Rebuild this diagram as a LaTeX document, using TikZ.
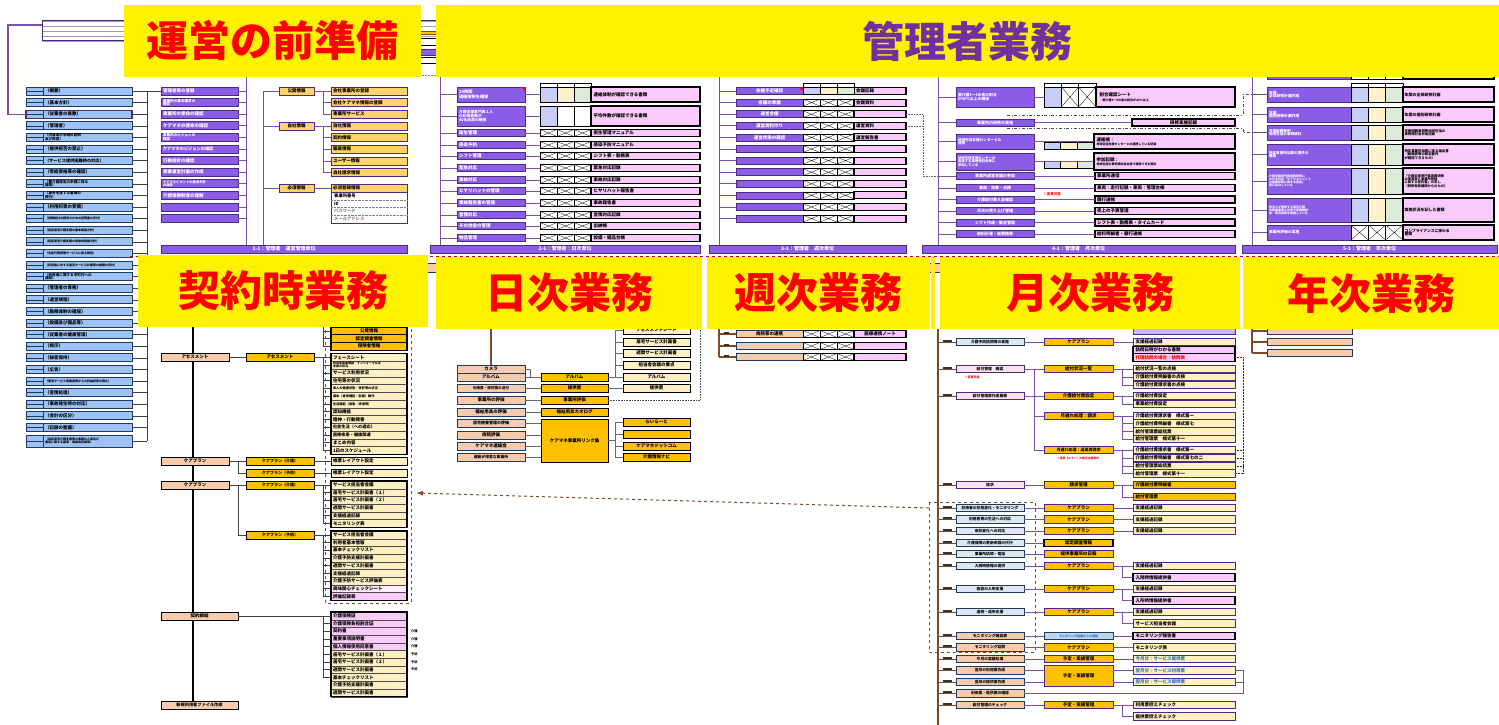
\documentclass[tikz,border=0pt]{standalone}
\usepackage{fontspec}
\setmainfont{Noto Sans CJK JP}
\usetikzlibrary{arrows.meta}
\definecolor{cBlue}{HTML}{9DC3F5}
\definecolor{cNavy}{HTML}{1F3A5F}
\definecolor{cPur}{HTML}{8B5CE6}
\definecolor{cPurD}{HTML}{4B2A80}
\definecolor{cPurL}{HTML}{7B4FB0}
\definecolor{cPink}{HTML}{FACBFA}
\definecolor{cOrg}{HTML}{FFC000}
\definecolor{cLO}{HTML}{FFD36B}
\definecolor{cCrm}{HTML}{FFF0C4}
\definecolor{cSal}{HTML}{F8CBAD}
\definecolor{cLB}{HTML}{C7CDF5}
\definecolor{cLY}{HTML}{FFF0CC}
\definecolor{cLG}{HTML}{DCEBD8}
\definecolor{cBrown}{HTML}{7F4A2A}
\definecolor{cTxtP}{HTML}{7030A0}
\definecolor{cSky}{HTML}{BDD7EE}
\definecolor{cBtxt}{HTML}{2E75B6}
\definecolor{cGrayL}{HTML}{5F6B7A}
\definecolor{cLPk}{HTML}{FBE3EE}
\definecolor{cLBg}{HTML}{DDE6F2}
\newcommand\fs[1]{\fontsize{#1}{#1}\selectfont}
\newcommand\bx[7]{\node[#6,anchor=north west,minimum width={(#4)-(#2)},minimum height={(#5)-(#3)}] (#1) at ({#2},{#3}) {#7};}
\newcommand\tri[8]{\bx{#1a}{#2}{#3}{(#2)+(#5)}{#4}{#6}{}\bx{#1b}{(#2)+(#5)}{#3}{(#2)+2*(#5)}{#4}{#7}{}\bx{#1c}{(#2)+2*(#5)}{#3}{(#2)+3*(#5)}{#4}{#8}{}}
\newcommand\ml[4][mlb]{\bx{#2}{956}{#3-3.8}{1024}{#3+3.8}{#1,font=\fs{3.8}\bfseries}{#4}\draw[brl,line width=1pt] (#2.west -| T11) -- (#2.west);\fill[black!80] ([xshift=-13pt,yshift=0.2pt]#2.west) rectangle ([xshift=-4pt,yshift=2.2pt]#2.west);}
\newcommand\mm[4][orgp]{\bx{#2}{1044}{#3-3.8}{1113}{#3+3.8}{#1}{#4}}
\newcommand\mr[4][crmp]{\bx{#2}{1133}{#3-3.8}{1235}{#3+3.8}{#1,text width=97pt,align=left}{#4}}
\newcommand\cn[2]{\draw[pl] (#1.east) -- (#2.west);}
\newcommand\cnv[3]{\draw[pl] (#1.east -| #3) |- (#2.west);}
\tikzset{
 bb/.style={draw,inner sep=0pt,outer sep=0pt,align=center,font=\fs{4.5}\bfseries},
 blu/.style={bb,fill=cBlue,draw=cNavy,line width=0.7pt},
 lcell/.style={blu,path picture={\draw[cNavy,line width=0.3pt] (path picture bounding box.west)--(path picture bounding box.east);}},
 pur/.style={bb,fill=cPur,draw=cPurD,line width=0.8pt,text=white},
 pnk/.style={bb,fill=cPink,draw=black,line width=1.1pt},
 pnkk/.style={bb,fill=cPink,draw=black,line width=1.2pt},
 lor/.style={bb,fill=cLO,draw=cPurD,line width=0.8pt},
 org/.style={bb,fill=cOrg,draw=black,line width=0.9pt},
 orgp/.style={bb,fill=cOrg,draw=cPurD,line width=0.9pt},
 crm/.style={bb,fill=cCrm,draw=black!70,line width=0.4pt,text width=72pt,align=left},
 crmp/.style={bb,fill=cCrm,draw=cPurD,line width=0.9pt},
 crmk/.style={bb,fill=cCrm,draw=black,line width=1pt},
 sal/.style={bb,fill=cSal,draw=cNavy,line width=0.9pt},
 salk/.style={bb,fill=cSal,draw=black,line width=1pt},
 mlb/.style={bb,fill=cLBg,draw=cNavy,line width=1pt},
 mlp/.style={bb,fill=cLPk,draw=cPurD,line width=1pt},
 mls/.style={bb,fill=cSal,draw=cNavy,line width=1pt},
 xcell/.style={bb,fill=white,draw=black,line width=0.7pt,path picture={\draw[line width=0.3pt] (path picture bounding box.north west)--(path picture bounding box.south east) (path picture bounding box.south west)--(path picture bounding box.north east);}},
 cellB/.style={bb,fill=cLB,draw=black,line width=0.7pt},
 cellY/.style={bb,fill=cLY,draw=black,line width=0.7pt},
 cellG/.style={bb,fill=cLG,draw=black,line width=0.7pt},
 cellW/.style={bb,fill=white,draw=black,line width=0.7pt},
 hcell/.style={bb,fill=white,draw=black,line width=0.6pt},
 bar/.style={bb,fill=cPur,draw=cPurD,line width=0.8pt,text=white,font=\fs{5}\bfseries},
 pl/.style={draw=cPurL,line width=0.9pt},
 kl/.style={draw=black!75,line width=0.6pt},
 bl/.style={draw=cGrayL,line width=0.7pt},
 brl/.style={draw=cBrown,line width=1.4pt},
 ylab/.style={fill=yellow,inner sep=0pt,outer sep=0pt,anchor=north west,font=\fs{42}\bfseries,text=red},
}
\begin{document}
\begin{tikzpicture}[x=1pt,y=-1pt]
\useasboundingbox (0,0) rectangle (1499,725);
\fill[white] (0,0) rectangle (1499,725);

% ================= 1: preparation ==================
\foreach \k in {0,1,2,3}{\bx{TB\k}{42}{21+5*\k}{436}{26+5*\k}{bb,fill=white,draw=cPurD!50,line width=0.4pt}{}}
\draw[cPurD,line width=1pt] (TB0.north west) rectangle (TB3.south east);
\bx{LG1}{405}{31}{436}{34}{bb,fill=cOrg,draw=cBrown,line width=0.4pt}{}
\bx{LG2}{405}{38}{436}{45}{bb,fill=white,draw=black,line width=0.6pt}{}
\bx{LG3}{405}{49}{436}{55}{pur}{}
\bx{LG4}{405}{57}{436}{63}{bb,fill=white,draw=black,line width=0.6pt}{}
\draw[densely dotted,gray,line width=0.5pt] (LG4.south west |- 0,75) -- (LG4.south east |- 0,75);

\coordinate (T1) at (147,91);
\coordinate (T1b) at (147,441);
\draw[kl] (T1) -- (T1b);
\foreach \i/\f/\t in {0/4.5/（概要）,1/4.5/（基本方針）,2/4.5/（従業者の員数）,3/4.5/（管理者）,4/3.6/（内容及び手続の説明\\及び同意）,5/4.5/（提供拒否の禁止）,6/4.2/（サービス提供困難時の対応）,7/4.5/（受給資格等の確認）,8/3.6/（要介護認定の申請に係る\\援助）,9/3.6/（身分を証する書類の\\携行）,10/4.5/（利用料等の受領）,11/3/（保険給付の請求のための証明書の交付）,12/3/（指定居宅介護支援の基本取扱方針）,13/3/（指定居宅介護支援の具体的取扱方針）,14/3/（法定代理受領サービスに係る報告）,15/3/（利用者に対する居宅サービス計画等の書類の交付）,16/3.6/（利用者に関する市町村への\\通知）,17/4.5/（管理者の責務）,18/4.5/（運営規程）,19/4.5/（勤務体制の確保）,20/4.5/（設備及び備品等）,21/4.5/（従業者の健康管理）,22/4.5/（掲示）,23/4.5/（秘密保持）,24/4.5/（広告）,25/3/（居宅サービス事業者等からの利益収受の禁止）,26/4.5/（苦情処理）,27/4.5/（事故発生時の対応）,28/4.5/（会計の区分）,29/4.5/（記録の整備）}{
  \pgfmathsetmacro\yc{91+11.6*\i}
  \bx{Ls\i}{26}{\yc-4}{43}{\yc+4}{lcell}{}
  \bx{L\i}{43}{\yc-4}{132}{\yc+4}{blu,font=\fs{\f}\bfseries,text width=85pt,align=left}{\t}
  \draw[kl] (L\i.east) -- (L\i.east -| T1);
}
\bx{Ls30}{26}{435}{43}{447}{lcell}{}
\bx{L30}{43}{435}{132}{447}{blu,font=\fs{3}\bfseries,text width=85pt,align=left}{（指定居宅介護支援等の事業の人員及び\\運営に関する基準：電磁的記録等）}
\draw[kl] (L30.east) -- (L30.east -| T1);
\draw[cPurD,line width=1.3pt] (Ls2.north west) rectangle (L2.south east);
\coordinate (TBl) at (42,25);
\draw[pl,line width=1.2pt] (TBl) -- (8,25) |- (Ls2.west);

\coordinate (T2) at (246,77);
\coordinate (T2b) at (246,245);
\draw[pl] (T2) -- (T2b);
\foreach \i/\f/\t in {0/4.5/管理者等の登録,1/3.6/事業所の基本理念の\\確認,2/4.5/事業所の使命の確認,3/4.5/ケアマネの使命の確認,4/3.6/事業所のビジョンの\\確認,5/4.2/ケアマネのビジョンの確認,6/4.5/行動指針の確認,7/4.5/事業運営計画の作成,8/3.3/ケアマネジメントの基本方針\\の確認,9/4.5/介護保険制度の理解,10/4.5/,11/4.5/}{
  \pgfmathsetmacro\yc{91+11.6*\i}
  \bx{P\i}{161}{\yc-4}{238}{\yc+4}{pur,font=\fs{\f}\bfseries,text width=73pt,align=left}{\t}
  \draw[pl] (P\i.east) -- (P\i.east -| T2);
}
\draw[kl] (T1) -- (P0.west);

\coordinate (T3) at (263,91);
\coordinate (T3b) at (263,245);
\draw[pl] (T3) -- (T3b);
\bx{G1}{279}{87}{314}{95}{lor}{公開情報}
\bx{G2}{279}{122}{314}{130}{lor}{自社情報}
\bx{G3}{279}{184}{314}{192}{lor}{必須情報}
\foreach \k in {1,2,3}{\draw[pl] (G\k.west -| T3) -- (G\k.west);}
\foreach \i/\yy/\t in {0/91/会社事業所の登録,1/102.5/会社ケアマネ情報の登録,2/114/事業所サービス,3/126/自社情報,4/137.5/契約情報,5/149/職員情報,6/161/ユーザー情報,7/172.5/自社請求情報}{
  \bx{R\i}{331}{\yy-4}{407}{\yy+4}{lor,text width=72pt,align=left}{\t}
}
\coordinate (V1) at (323,0);
\draw[pl] (G1.east) -- (R0.west);
\draw[pl] (R0.west -| V1) -- (R2.west -| V1);
\foreach \i in {1,2}{\draw[pl] (R\i.west -| V1) -- (R\i.west);}
\draw[pl] (G2.east) -- (R3.west);
\draw[pl] (R3.west -| V1) -- (R7.west -| V1);
\foreach \i in {4,...,7}{\draw[pl] (R\i.west -| V1) -- (R\i.west);}
\bx{R8}{331}{184}{407}{192}{lor,text width=72pt,align=left}{必須登録情報}
\draw[pl] (G3.east) -- (R8.west);
\bx{RL}{331}{192}{407}{223}{bb,fill=white,draw=cPurD,line width=0.8pt}{}
\foreach \k/\t/\c in {0/事業所番号/black,1/ID/black,2/パスワード/gray,3/メールアドレス/gray}{
  \node[font=\fs{4.3}\bfseries,text=\c,anchor=west,inner sep=0pt] (RL\k) at (334,{195.8+7.7*\k}) {\t};
}
\foreach \k in {1,2,3}{\draw[densely dotted,gray,line width=0.4pt] (331,{192+7.7*\k}) -- (407,{192+7.7*\k});}
\bx{B1}{161}{245}{407}{253}{bar}{1-1：管理者　運営管理単位}

% ================= 2: daily (top) ==================
\coordinate (T4) at (440,77);
\coordinate (T4b) at (440,245);
\draw[pl] (T4) -- (T4b);
\tri{DH}{540}{83}{87}{17}{hcell}{hcell}{hcell}
\bx{D0}{457}{87}{525}{102}{pur,font=\fs{4.2}\bfseries,text width=64pt,align=left}{24時間\\連絡体制を確保}
\tri{DC0}{540}{87}{102}{17}{cellB}{cellY}{cellG}
\bx{DR0}{591}{87}{700}{102}{pnk,text width=104pt,align=left}{連絡体制が確認できる書類}
\bx{D1}{457}{106}{525}{126}{pur,font=\fs{3.8}\bfseries,text width=64pt,align=left}{介護支援専門員１人\\の利用者数が\\40名未満の確保}
\tri{DC1}{540}{106}{126}{17}{cellB}{cellW}{cellW}
\bx{DR1}{591}{106}{700}{126}{pnk,text width=104pt,align=left}{平均件数が確認できる書類}
\fill[red] ([xshift=-4pt]D0.north east) -- (D0.north east) -- ([yshift=-4pt]D0.north east) -- cycle;
\foreach \i in {0,1}{\draw[pl] (D\i.west -| T4) -- (D\i.west); \draw[pl] (D\i.east) -- (DC\i a.west);}
\foreach \i/\yy/\a/\b in {2/133/衛生管理/衛生管理マニュアル,3/145/感染予防/感染予防マニュアル,4/156/シフト管理/シフト表・勤務表,5/168/緊急対応/緊急対応記録,6/180/事故対応/事故対応記録,7/191/ヒヤリハットの管理/ヒヤリハット報告書,8/203/事故報告書の管理/事故報告書,9/215/苦情対応/苦情対応記録,10/226/その他金の管理/出納帳,11/238/物品管理/設備・備品台帳}{
  \bx{D\i}{457}{\yy-3.5}{525}{\yy+3.5}{pur,text width=64pt,align=left}{\a}
  \tri{DC\i}{540}{\yy-3.5}{\yy+3.5}{17}{xcell}{xcell}{xcell}
  \bx{DR\i}{591}{\yy-3.5}{700}{\yy+3.5}{pnk,text width=104pt,align=left}{\b}
  \draw[pl] (D\i.west -| T4) -- (D\i.west);
  \draw[pl] (D\i.east) -- (DC\i a.west);
}
\bx{B2}{430}{245}{700}{253}{bar}{2-1：管理者：日次単位}

% ================= 3: weekly (top) ==================
\coordinate (T5) at (719,77);
\coordinate (T5b) at (719,245);
\draw[pl] (T5) -- (T5b);
\tri{WH}{803}{83}{87.5}{17}{hcell}{hcell}{hcell}
\foreach \i/\a/\b in {0/会議予定確認/会議記録,1/会議の準備/会議資料,2/運営会議/,3/運営資料作り/運営資料,4/運営状態の確認/運営報告書,5//,6//,7//,8//,9//,10//,11//}{
  \pgfmathsetmacro\yy{91+11.6*\i}
  \bx{W\i}{736}{\yy-3.5}{803}{\yy+3.5}{pur}{\a}
  \tri{WC\i}{803}{\yy-3.5}{\yy+3.5}{17}{xcell}{xcell}{xcell}
  \bx{WR\i}{854}{\yy-3.5}{906}{\yy+3.5}{pnk,text width=48pt,align=left}{\b}
  \draw[pl] (W\i.west -| T5) -- (W\i.west);
}
\tri{WCc}{803}{87.5}{94.5}{17}{cellB}{cellY}{cellG}
\fill[red] ([xshift=-4pt]W0.north east) -- (W0.north east) -- ([yshift=-4pt]W0.north east) -- cycle;
\bx{B3}{709}{245}{906}{253}{bar}{3-1：管理者　週次単位}

% ================= 4: monthly (top) ==================
\coordinate (T6) at (938,77);
\coordinate (T6b) at (938,245);
\draw[pl] (T6) -- (T6b);
\tri{MH}{1044}{83}{87}{17.3}{hcell}{hcell}{hcell}
\bx{M0}{956}{87}{1034}{107}{pur,font=\fs{3.8}\bfseries,text width=74pt,align=left}{要介護3～5の者の割合\\が40\%以上の確保}
\tri{MC0}{1044}{87}{107}{17.3}{cellB}{xcell}{xcell}
\bx{MR0}{1096}{87}{1235}{107}{pnk,text width=132pt,align=left}{割合確認シート\\{\fs{3}\bfseries{}・要介護3～5の者の割合が40\%以上}}
\bx{M1}{956}{119}{1034}{126}{pur,font=\fs{4}\bfseries}{事業所内研修の実施}
\bx{MR1}{1132}{119}{1235}{126}{pnk}{研修実施記録}
\bx{M2}{956}{134}{1034}{149}{pur,font=\fs{3.6}\bfseries,text width=74pt,align=left}{地域包括支援センターとの\\連携}
\tri{MC2}{1044}{142}{149}{16.7}{cellB}{cellY}{cellG}
\bx{MR2}{1094}{134}{1235}{149}{pnk,text width=136pt,align=left}{連絡帳：\\{\fs{3}\bfseries{}地域包括支援センターとの連携している記録}}
\bx{M3}{956}{153}{1034}{170}{pur,font=\fs{3.4}\bfseries,text width=74pt,align=left}{地域包括支援センターが\\実施する事例検討会等に\\参加している}
\tri{MC3}{1044}{161}{168}{16.7}{cellB}{cellY}{cellG}
\bx{MR3}{1094}{153}{1235}{170}{pnk,text width=136pt,align=left}{参加記録：\\{\fs{3}\bfseries{}地域包括の事例検討会出席で確認できる資料}}
\foreach \i/\yy/\a/\b in {4/176/事業所運営会議の参加/事業所通信,5/188/車両：洗車・点検/車両：走行記録・車両：管理台帳,6/199.5/介護給付費入金確認/銀行通帳,7/211/月次の売り上げ管理/売上の予算管理,8/222.5/シフト作成・勤怠管理/シフト表・勤務表・タイムカード,9/234/給料計算・経費精算/給料明細書・銀行通帳}{
  \bx{M\i}{956}{\yy-3.5}{1034}{\yy+3.5}{pur,font=\fs{4}\bfseries}{\a}
  \bx{MR\i}{1095}{\yy-3.5}{1235}{\yy+3.5}{pnk,text width=136pt,align=left}{\b}
  \draw[pl] (M\i.east) -- (MR\i.west);
}
\foreach \i in {0,...,9}{\draw[pl] (M\i.west -| T6) -- (M\i.west);}
\draw[pl] (M0.east) -- (MC0a.west);
\draw[pl] (M1.east) -- (MR1.west);
\draw[pl] (M2.east) -- (M2.east -| MR2.west);
\draw[pl] (M3.east) -- (M3.east -| MR3.west);
\node[text=red,font=\fs{3.5}\bfseries,inner sep=0pt] (NOTE1) at (1052,194) {※変更可能};
\bx{B4}{922}{245}{1235}{253}{bar}{4-1：管理者　月次単位}

% ================= 5: yearly (top) ==================
\coordinate (T7) at (1252,70);
\coordinate (T7b) at (1252,245);
\draw[pl] (T7) -- (T7b);
\bx{YRh}{1267}{70}{1351}{79}{pur}{}
\tri{YCh}{1351}{70}{79}{17.3}{cellW}{cellW}{cellW}
\bx{YRRh}{1403}{70}{1494}{79}{pnk}{}
\tri{YH}{1351}{83}{87}{17.3}{hcell}{hcell}{hcell}
\bx{YR0}{1267}{87}{1351}{102}{pur,font=\fs{3.8}\bfseries,text width=80pt,align=left}{年間\\全体研修計画作成}
\bx{YR1}{1267}{107}{1351}{122}{pur,font=\fs{3.8}\bfseries,text width=80pt,align=left}{年間\\個別研修計画作成}
\bx{YR2}{1267}{125}{1351}{140}{pur,font=\fs{3.6}\bfseries,text width=80pt,align=left}{支援困難事例：\\地域包括の事例検討}
\bx{YR3}{1267}{144}{1351}{165}{pur,font=\fs{3.6}\bfseries,text width=80pt,align=left}{特定事業所加算の要件の\\確認}
\bx{YR4}{1267}{168}{1351}{194}{pur,font=\fs{3}\bfseries,text width=80pt,align=left}{介護支援専門員実務研修に\\おける科目「ケアマネジメント\\の基礎技術に関する実習」\\等に協力している}
\bx{YR5}{1267}{198}{1351}{222}{pur,font=\fs{3}\bfseries,text width=80pt,align=left}{他法人が運営する居宅介護\\支援事業者と共同で事例検討\\会・研究会等を実施している}
\bx{YR6}{1267}{225}{1351}{240}{pur,font=\fs{3.8}\bfseries,text width=80pt,align=left}{事業所評価の実施}
\foreach \i/\a/\b in {0/87/102,1/107/122,2/125/140,3/144/165,4/168/194,5/198/222}{\tri{YC\i}{1351}{\a}{\b}{17.3}{cellB}{cellY}{cellG}}
\tri{YC6}{1351}{225}{240}{17.3}{xcell}{xcell}{xcell}
\bx{YP0}{1403}{87}{1494}{102}{pnk,font=\fs{4}\bfseries,text width=88pt,align=left}{年間の全体研修計画}
\bx{YP1}{1403}{107}{1494}{122}{pnk,font=\fs{4}\bfseries,text width=88pt,align=left}{年間の個別研修計画}
\bx{YP2}{1403}{125}{1494}{140}{pnk,font=\fs{3.4}\bfseries,text width=88pt,align=left}{支援困難事例等地域包括の\\事例検討会参加記録}
\bx{YP3}{1403}{144}{1494}{165}{pnk,font=\fs{3.4}\bfseries,text width=88pt,align=left}{特定事業所加算に係る届出書\\（勤務表等の算定要件\\が確認できるもの）}
\bx{YP4}{1403}{168}{1494}{194}{pnk,font=\fs{3.3}\bfseries,text width=88pt,align=left}{「介護支援専門員実務研修\\の実習受入事業所登録\\に関する誓約書」の写し\\（研修実施機関からのもの）}
\bx{YP5}{1403}{198}{1494}{222}{pnk,font=\fs{4}\bfseries,text width=88pt,align=left}{実施状況を記した書類}
\bx{YP6}{1403}{225}{1494}{240}{pnk,font=\fs{3.8}\bfseries,text width=88pt,align=left}{コンプライアンスに係わる\\書類}
\foreach \i in {0,...,6}{\draw[pl] (YR\i.west -| T7) -- (YR\i.west);}
\bx{B5}{1242}{245}{1497}{253}{bar}{5-1：管理者　年次単位}
\coordinate (DD1) at (1007,115);
\coordinate (DD2) at (1007,128);
\coordinate (V11) at (1243,0);
\draw[dash dot,line width=0.8pt,black!70] (DD1) -- (DD1 -| V11) |- (YR0.west);
\draw[dash dot,line width=0.8pt,black!70] (DD2) -- (DD2 -| V11) |- (YR2.west);
\draw[densely dotted,line width=0.6pt,black!60] (WR2.east) -- (WR2.east -| 923,0) |- (M4.west);
\draw[densely dotted,line width=0.6pt,black!60] (WR3.east) -- (WR3.east -| 923,0);

\draw[red!80!black,dashed,line width=1.2pt] (130,256.5) -- (1499,256.5);

% ================= lower: contract ==================
\bx{SP1}{418}{263}{446}{272}{sal}{}
\bx{SP2}{924}{263}{952}{272}{sal}{}
\coordinate (T8) at (193,320);
\coordinate (T8b) at (193,705);
\draw[black,line width=1.6pt] (T8) -- (T8b);
\bx{K1}{161}{353}{229}{361}{salk}{アセスメント}
\bx{K2}{161}{457}{229}{465}{salk}{ケアプラン}
\bx{K3}{161}{481}{229}{489}{salk}{ケアプラン}
\bx{K4}{161}{612}{238}{620}{salk}{契約締結}
\bx{K5}{161}{701}{238}{709}{salk,font=\fs{4.2}\bfseries}{新規利用者ファイル作成}
\bx{A1}{246}{353}{314}{361}{org}{アセスメント}
\bx{A2}{246}{457}{314}{465}{org,font=\fs{4}\bfseries}{ケアプラン（介護）}
\bx{A3}{246}{469}{314}{477}{org,font=\fs{4}\bfseries}{ケアプラン（予防）}
\bx{A4}{246}{481}{314}{489}{org,font=\fs{4}\bfseries}{ケアプラン（介護）}
\bx{A5}{246}{531}{314}{539}{org,font=\fs{4}\bfseries}{ケアプラン（予防）}
\coordinate (V2) at (238,0);
\draw[kl] (K1.east) -- (A1.west);
\draw[kl] (K2.east) -- (A2.west);
\draw[kl] (K2.east -| V2) |- (A3.west);
\draw[kl] (K3.east) -- (A4.west);
\draw[kl] (K3.east -| V2) |- (A5.west);
\coordinate (V3) at (323,0);
\foreach \i/\t in {0/公費情報,1/認定調査情報,2/保険者情報}{
  \pgfmathsetmacro\yy{327+7.7*\i}
  \bx{TQ\i}{331}{\yy}{407}{\yy+7.7}{org,line width=0.5pt}{\t}
  \draw[kl] (TQ\i.west -| V3) -- (TQ\i.west);
}
\draw[line width=1.1pt] (TQ0.north west) rectangle (TQ2.south east);
\draw[kl] (V3 |- 0,320) -- (TQ2.west -| V3);
\foreach \i/\f/\t in {0/4.5/フェースシート,1/3/利用者基本情報・インフォーマルな\\支援の状況,2/4.5/サービス利用状況,3/4.5/住宅等の状況,4/3.2/本人の健康状態・受診等の状況,5/3.2/基本（身体機能・起居）動作,6/3.2/生活機能（食事・排泄等）,7/4.5/認知機能,8/4.5/精神・行動障害,9/4.2/社会生活（への適応）,10/4.2/医療疾患・健康関連,11/4.5/まとめ内容,12/4.5/1日のスケジュール}{
  \pgfmathsetmacro\yy{353.5+7.75*\i}
  \bx{AS\i}{331}{\yy}{407}{\yy+7.75}{crm,font=\fs{\f}\bfseries}{\t}
  \draw[kl] (AS\i.west -| V3) -- (AS\i.west);
}
\draw[line width=1.1pt] (AS0.north west) rectangle (AS12.south east);
\draw[kl] (A1.east) -- (A1.east -| V3);
\draw[kl] (AS0.west -| V3) -- (AS12.west -| V3);
\bx{C1}{331}{457}{407}{465}{crmk,text width=72pt,align=left}{帳票レイアウト設定}
\bx{C2}{331}{469}{407}{477}{crmk,text width=72pt,align=left}{帳票レイアウト設定}
\draw[kl] (A2.east) -- (C1.west);
\draw[kl] (A3.east) -- (C2.west);
\foreach \i/\t in {0/サービス担当者会議,1/居宅サービス計画書（１）,2/居宅サービス計画書（２）,3/週間サービス計画書,4/支援経過記録,5/モニタリング表}{
  \pgfmathsetmacro\yy{481+7.7*\i}
  \bx{CP\i}{331}{\yy}{407}{\yy+7.7}{crm}{\t}
  \draw[kl] (CP\i.west -| V3) -- (CP\i.west);
}
\draw[line width=1.1pt] (CP0.north west) rectangle (CP5.south east);
\draw[kl] (A4.east) -- (A4.east -| V3);
\draw[kl] (CP0.west -| V3) -- (CP5.west -| V3);
\foreach \i/\t in {0/サービス担当者会議,1/利用者基本情報,2/基本チェックリスト,3/介護予防支援計画書,4/週間サービス計画書,5/支援経過記録,6/介護予防サービス評価表}{
  \pgfmathsetmacro\yy{531+7.7*\i}
  \bx{PP\i}{331}{\yy}{407}{\yy+7.7}{crm}{\t}
  \draw[kl] (PP\i.west -| V3) -- (PP\i.west);
}
\bx{PP7}{331}{584.9}{407}{592.6}{crm,fill=cPink!35}{興味関心チェックシート}
\bx{PP8}{331}{592.6}{407}{600.3}{crm,fill=cPink}{評価記録表}
\foreach \i in {7,8}{\draw[kl] (PP\i.west -| V3) -- (PP\i.west);}
\draw[line width=1.1pt] (PP0.north west) rectangle (PP8.south east);
\draw[kl] (A5.east) -- (A5.east -| V3);
\draw[kl] (PP0.west -| V3) -- (PP8.west -| V3);
\foreach \i/\t in {0/介護保険証,1/介護保険負担割合証,2/契約書,3/重要事項説明書,4/個人情報使用同意書}{
  \pgfmathsetmacro\yy{612+7.7*\i}
  \bx{CT\i}{331}{\yy}{407}{\yy+7.7}{crm,fill=cPink}{\t}
}
\foreach \i/\t in {5/居宅サービス計画書（１）,6/居宅サービス計画書（２）,7/週間サービス計画書,8/基本チェックリスト,9/介護予防支援計画書,10/週間サービス計画書}{
  \pgfmathsetmacro\yy{612+7.7*\i}
  \bx{CT\i}{331}{\yy}{407}{\yy+7.7}{crm}{\t}
}
\draw[line width=1.1pt] (CT0.north west) rectangle (CT10.south east);
\draw[kl] (K4.east) -- (K4.east -| V3);
\draw[kl] (CT0.west -| V3) -- (CT8.west -| V3);
\foreach \i in {0,...,8}{\draw[kl] (CT\i.west -| V3) -- (CT\i.west);}
\foreach \i/\t in {2/介護,3/介護,4/介護,5/予防,6/予防,7/予防}{\node[font=\fs{3.2}\bfseries,anchor=west,inner sep=0pt] (SL\i) at ([xshift=4pt]CT\i.east) {\t};}
\draw[cBrown,dashed,line width=1pt] (325,318) rectangle (411,603);

% ================= lower: daily ==================
\coordinate (T9) at (491,329);
\bx{DL0}{457}{365}{525}{373}{sal}{カメラ}
\bx{DL1}{457}{373}{525}{381}{sal}{アルバム}
\draw[brl] (T9) -- (DL0.north);
\bx{DL2}{457}{384}{525}{392}{sal,font=\fs{3.6}\bfseries}{利用票・提供票の送付}
\bx{DL3}{457}{396}{525}{404}{sal}{事業所の評価}
\bx{DL4}{457}{408}{525}{416}{sal}{福祉用具の評価}
\bx{DL5}{457}{419}{525}{427}{sal,font=\fs{4}\bfseries}{居宅療養管理の評価}
\bx{DL6}{457}{431}{525}{439}{sal}{病院評価}
\bx{DL7}{457}{442}{525}{450}{sal}{ケアマネ連絡会}
\bx{DL8}{457}{453}{525}{461}{sal,font=\fs{3.8}\bfseries}{運動が得意な事業所}
\bx{EL0}{541}{373}{608}{381}{org}{アルバム}
\bx{EL1}{541}{384}{608}{392}{org}{提供票}
\bx{EL2}{541}{396}{608}{404}{org}{事業所評価}
\bx{EL3}{541}{408}{608}{416}{org}{福祉用具カタログ}
\bx{EL4}{541}{419}{608}{462}{org}{ケアマネ事業所リンク集}
\coordinate (V8) at (530,0);
\draw[bl] (DL0.east) -| (V8 |- EL0.west) -- (EL0.west);
\draw[bl] (DL1.east) -- (EL0.west);
\draw[bl] (DL2.east) -- (EL1.west);
\draw[bl] (DL3.east) -- (EL2.west);
\draw[bl] (DL4.east) -- (EL3.west);
\foreach \i in {5,...,8}{\draw[bl] (DL\i.east) -- (DL\i.east -| EL4.west);}
\foreach \i/\yy/\t in {0/330/アセスメントシート,1/342/居宅サービス計画書,2/353/週間サービス計画書,3/365/担当者会議の要点,4/377/アルバム,5/388/提供票}{
  \bx{FL\i}{623}{\yy-4}{690}{\yy+4}{crmk}{\t}
}
\coordinate (V9) at (615,0);
\draw[bl] (EL0.east) -- (EL0.east -| V9);
\draw[bl] (FL0.west -| V9) -- (FL4.west -| V9);
\foreach \i in {0,...,4}{\draw[bl] (FL\i.west -| V9) -- (FL\i.west);}
\draw[bl] (EL1.east) -- (FL5.west);
\draw[densely dotted,line width=0.6pt,black!70] (EL2.east) -- (700,400) -- (700,329);
\foreach \i/\yy/\t in {0/422/らいらーと,1/434/,2/446/ケアマネドットコム,3/457/介護情報ナビ}{
  \bx{HL\i}{623}{\yy-4}{690}{\yy+4}{org}{\t}
  \draw[bl] (HL\i.west -| V9) -- (HL\i.west);
}
\draw[bl] (EL4.east) -- (EL4.east -| V9);
\draw[bl] (HL0.west -| V9) -- (HL3.west -| V9);

% ================= lower: weekly ==================
\coordinate (T10) at (719,329);
\coordinate (T10b) at (719,357);
\draw[brl] (T10) -- (T10b);
\foreach \i/\yy/\a/\b in {0/334/病院等の連携/医療連携ノート,1/346//,2/357//}{
  \bx{WL\i}{736}{\yy-3.5}{803}{\yy+3.5}{sal}{\a}
  \tri{WLC\i}{803}{\yy-3.5}{\yy+3.5}{17}{xcell}{xcell}{xcell}
  \bx{WLR\i}{854}{\yy-3.5}{906}{\yy+3.5}{pnk}{\b}
  \draw[brl] (WL\i.west -| T10) -- (WL\i.west);
  \fill[black!80] ([xshift=-12pt,yshift=0.2pt]WL\i.west) rectangle ([xshift=-7pt,yshift=2pt]WL\i.west);
}

% ================= lower: monthly ==================
\coordinate (T11) at (938,329);
\coordinate (T11b) at (938,725);
\draw[brl] (T11) -- (T11b);
\coordinate (V7) at (1034,0);
\coordinate (V10) at (1122,0);
\bx{NRh}{1133}{326}{1235}{334}{bb,fill=cPur!45,draw=cPurD,line width=0.9pt}{}
\ml{NL0}{342}{介護予防訪問等の実施}
\mm{NM0}{342}{ケアプラン}
\mr{NR0}{342}{支援経過記録}
\mr[pnkk]{NR0b}{350}{訪問日時がわかる書類}
\mr[pnkk,text=red]{NR0c}{357.5}{代理訪問の場合：訪問表}
\cn{NL0}{NM0}\cn{NM0}{NR0}
\ml[mlp]{NL1}{369}{給付管理　確認}
\node[text=red,font=\fs{3}\bfseries,inner sep=0pt] (RN1) at (972,377) {※変更可能};
\mm{NM1}{369}{給付状況一覧}
\mr{NR1}{369}{給付状況一覧の点検}
\mr{NR1b}{377}{介護給付費明細書の点検}
\mr{NR1c}{385}{介護給付費請求書の点検}
\cn{NL1}{NM1}\cn{NM1}{NR1}\cnv{NM1}{NR1b}{V10}\cnv{NM1}{NR1c}{V10}
\ml[mlp]{NL2}{396}{給付管理票作成業務}
\mm{NM2}{396}{介護給付費設定}
\mr{NR2}{396}{介護給付費設定}
\mr{NR2b}{404}{事業給付費設定}
\cn{NL2}{NM2}\cn{NM2}{NR2}\cnv{NM2}{NR2b}{V10}
\mm{NM3}{416}{月遅れ処理：請求}
\mr{NR3a}{416}{介護給付費請求書　様式第一}
\mr{NR3b}{423.7}{介護給付費明細書　様式第七}
\mr{NR3c}{431.3}{給付管理票総括票}
\mr{NR3d}{439}{給付管理票　様式第十一}
\cn{NM3}{NR3a}\cnv{NM3}{NR3b}{V10}\cnv{NM3}{NR3c}{V10}\cnv{NM3}{NR3d}{V10}
\mm[orgp,font=\fs{4}\bfseries]{NM4}{450}{月遅れ処理：返戻再請求}
\node[text=red,font=\fs{2.8}\bfseries,inner sep=0pt] (RN2) at (1078,458) {※返戻（エラー）の場合は再請求};
\mr{NR4a}{450}{介護給付費請求書　様式第一}
\mr{NR4b}{458}{介護給付費明細書　様式第七の二}
\mr{NR4c}{466}{給付管理票総括票}
\mr{NR4d}{473.5}{給付管理票　様式第十一}
\cn{NM4}{NR4a}\cnv{NM4}{NR4b}{V10}\cnv{NM4}{NR4c}{V10}\cnv{NM4}{NR4d}{V10}
\draw[pl] (NM1.west -| V7) -- (NM4.west -| V7);
\foreach \k in {3,4}{\draw[pl] (NM\k.west -| V7) -- (NM\k.west);}
\draw[densely dotted,red!60!black,line width=0.5pt] (NR0c.east) -- (NR0c.east -| V11) |- (NR4d.east);
\foreach \k in {a,b,c}{\draw[densely dotted,red!60!black,line width=0.5pt] (NR4\k.east) -- (NR4\k.east -| V11);}
\ml[mlp]{NL5}{485}{請求}
\mm{NM5}{485}{請求管理}
\mr[orgp]{NR5}{485}{介護給付費明細書}
\mr[orgp]{NR5b}{497}{給付管理票}
\cn{NL5}{NM5}\cn{NM5}{NR5}\cnv{NM5}{NR5b}{V10}
\foreach \k/\yy/\t in {6/508/利用者の状態変化・モニタリング,7/519.5/利用者等の生活への対応,8/531/病状変化への対応}{
  \ml{NL\k}{\yy}{\t}\mm{NM\k}{\yy}{ケアプラン}\mr{NR\k}{\yy}{支援経過記録}\cn{NL\k}{NM\k}\cn{NM\k}{NR\k}
}
\ml{NL9}{543}{介護保険の更新申請の代行}
\mm[org,line width=1.3pt]{NM9}{543}{認定調査情報}
\cn{NL9}{NM9}
\ml{NL10}{554}{事業所訪問・電話}
\mm{NM10}{554}{提供事業所の日報}
\cn{NL10}{NM10}
\ml{NL11}{566}{入院時情報の提供}\mm{NM11}{566}{ケアプラン}\mr{NR11}{566}{支援経過記録}\mr[pnkk]{NR11b}{577.5}{入院時情報提供書}
\cn{NL11}{NM11}\cn{NM11}{NR11}\cnv{NM11}{NR11b}{V10}
\ml{NL12}{589}{施設の入所支援}\mm{NM12}{589}{ケアプラン}\mr{NR12}{589}{支援経過記録}\mr[pnkk]{NR12b}{600.5}{入所時情報提供書}
\cn{NL12}{NM12}\cn{NM12}{NR12}\cnv{NM12}{NR12b}{V10}
\ml{NL13}{612}{退院・退所支援}\mm{NM13}{612}{ケアプラン}\mr{NR13}{612}{支援経過記録}\mr{NR13b}{623.5}{サービス担当者会議}
\cn{NL13}{NM13}\cn{NM13}{NR13}\cnv{NM13}{NR13b}{V10}
\ml[mls]{NL14}{636}{モニタリング確認表}
\mm[bb,fill=cSky,draw=cNavy,line width=0.9pt,text=cBtxt,font=\fs{3}\bfseries]{NM14}{636}{モニタリング結果からの連絡}
\mr[pnkk]{NR14}{636}{モニタリング報告書}
\cn{NL14}{NM14}\cn{NM14}{NR14}
\ml[mls]{NL15}{647.5}{モニタリング訪問}\mm{NM15}{647.5}{ケアプラン}\mr{NR15}{647.5}{モニタリング表}
\cn{NL15}{NM15}\cn{NM15}{NR15}
\ml[mls]{NL16}{659}{今月の実績処理}\mm{NM16}{659}{予定・実績管理}\mr[crmp,text=cBtxt]{NR16}{659}{今月分：サービス提供票}
\cn{NL16}{NM16}\cn{NM16}{NR16}
\ml[mls]{NL17}{670.5}{翌月の利用票作成}
\bx{NM17}{1044}{665}{1113}{686}{orgp}{予定・実績管理}
\mr[crmp,text=cBtxt]{NR17}{670.5}{翌月分：サービス利用票}
\ml[mls]{NL18}{682}{翌月の提供票作成}
\mr[crmp,text=cBtxt]{NR18}{682}{翌月分：サービス提供票}
\draw[pl] (NL17.east) -- (NL17.east -| NM17.west);
\draw[pl] (NL18.east) -- (NL18.east -| NM17.west);
\draw[pl] (NM17.east |- NR17.west) -- (NR17.west);
\draw[pl] (NM17.east |- NR18.west) -- (NR18.west);
\ml[mls]{NL19}{693.5}{利用票・提供票の確認}
\draw[pl] (NL19.east) -| (V11 |- NR17.east) -- (NR17.east);
\draw[pl] (NR18.east) -- (NR18.east -| V11);
\ml[mls]{NL20}{705}{給付管理のチェック}\mm{NM20}{705}{予定・実績管理}\mr{NR20}{705}{利用票控えチェック}\mr{NR20b}{716.5}{提供票控えチェック}
\cn{NL20}{NM20}\cn{NM20}{NR20}\cnv{NM20}{NR20b}{V10}
\draw[cBrown,dashed,line width=1pt] (929,502) rectangle (1035,652);
\coordinate (ARs) at (929,508);
\coordinate (ARe) at (416,493);
\draw[cBrown,dashed,line width=1pt,-{Latex[length=7pt,width=5pt]}] (ARs) -- (ARe);

% ================= lower: yearly ==================
\coordinate (T12) at (1252,329);
\coordinate (T12b) at (1252,353);
\draw[brl] (T12) -- (T12b);
\foreach \i/\yy in {0/331,1/342,2/353}{
  \bx{YL\i}{1267}{\yy-3.5}{1352}{\yy+3.5}{sal}{}
  \draw[brl] (YL\i.west -| T12) -- (YL\i.west);
}

% ================= yellow labels ==================
\node[ylab,minimum width=297pt,minimum height=72pt] (LB1) at (124,5) {運営の前準備};
\node[ylab,text=cTxtP,minimum width=1063pt,minimum height=72pt] (LB2) at (436,5) {管理者業務};
\node[ylab,minimum width=290pt,minimum height=72pt] (LB3) at (138,255) {契約時業務};
\node[ylab,minimum width=266pt,minimum height=72pt] (LB4) at (436,257) {日次業務};
\node[ylab,minimum width=223pt,minimum height=72pt] (LB5) at (707,257) {週次業務};
\node[ylab,minimum width=4pt,minimum height=72pt] (LB5s) at (931,257) {};
\node[ylab,minimum width=300pt,minimum height=72pt] (LB6) at (940,257) {月次業務};
\node[ylab,minimum width=256pt,minimum height=72pt] (LB7) at (1243,257) {年次業務};
\end{tikzpicture}
\end{document}
